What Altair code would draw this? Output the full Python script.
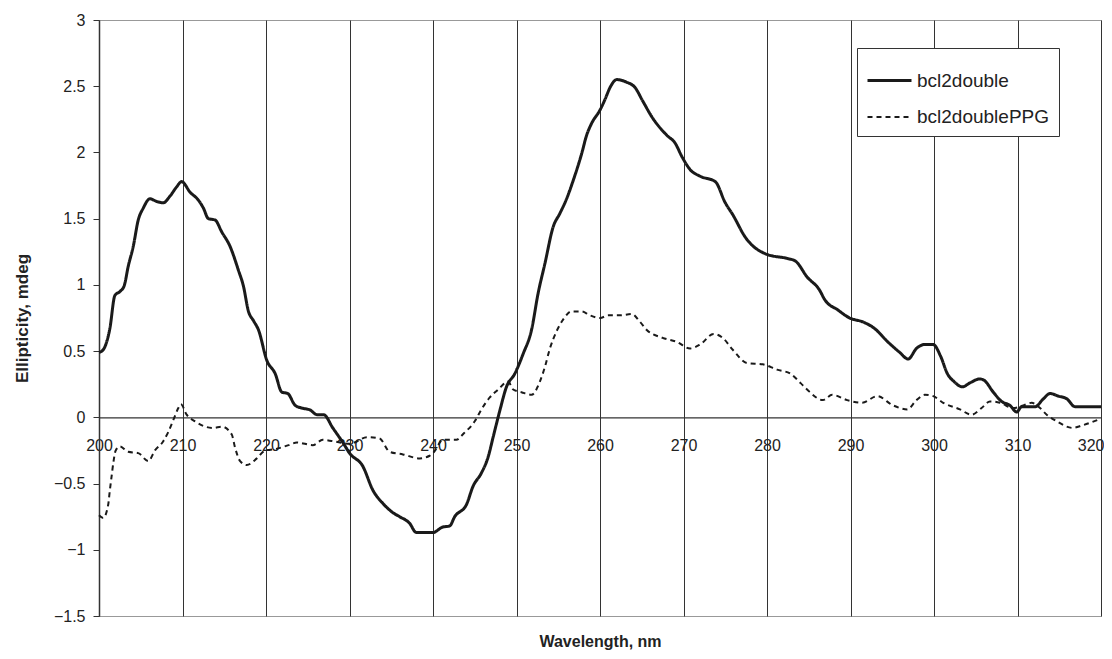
import altair as alt
import pandas as pd

series_names = ["bcl2double", "bcl2doublePPG"]

wl_solid = [200.0, 200.5, 201.3, 201.9, 202.5, 203.0, 203.5, 204.1, 204.7, 205.3, 206.1, 206.9, 207.7, 208.5,
            209.3, 209.9, 210.9, 211.9, 212.5, 213.1, 213.9, 214.7, 215.7, 216.7, 217.3, 217.9, 218.5, 219.1,
            220.1, 221.1, 221.9, 222.6, 223.5, 224.3, 225.3, 226.1, 226.9, 228.0, 229.2, 230.0, 231.6, 232.8,
            234.0, 235.2, 236.0, 237.2, 238.0, 239.0, 240.0, 241.1, 242.0, 242.6, 244.0, 244.8, 245.8, 246.6,
            247.2, 248.0, 248.8, 249.8, 250.8, 251.8, 252.6, 253.4, 254.4, 255.2, 256.0, 256.8, 257.8, 258.4,
            259.0, 260.0, 260.6, 261.2, 262.0, 263.2, 264.2, 265.1, 266.3, 268.0, 269.0, 269.8, 270.8, 272.0,
            273.8, 275.0, 275.9, 277.4, 280.0, 282.4, 283.4, 284.8, 286.3, 286.9, 288.5, 289.9, 291.5, 292.9,
            294.3, 295.9, 296.9, 297.9, 298.9, 299.9, 300.8, 301.6, 302.4, 303.4, 304.3, 305.5, 306.0, 307.1,
            308.1, 309.1, 309.9, 310.5, 312.1, 313.1, 313.9, 314.9, 315.9, 316.9, 318.3, 320.0]
val_solid = [0.49, 0.51, 0.67, 0.92, 0.95, 0.99, 1.14, 1.29, 1.49, 1.58, 1.65, 1.63, 1.62, 1.67,
             1.74, 1.78, 1.70, 1.64, 1.58, 1.50, 1.49, 1.40, 1.29, 1.11, 0.99, 0.80, 0.73, 0.66,
             0.43, 0.33, 0.19, 0.18, 0.09, 0.07, 0.055, 0.02, 0.02, -0.08, -0.19, -0.27, -0.37, -0.55,
             -0.65, -0.72, -0.75, -0.80, -0.87, -0.87, -0.87, -0.83, -0.82, -0.75, -0.66, -0.52, -0.42, -0.30,
             -0.15, 0.05, 0.23, 0.33, 0.48, 0.66, 0.94, 1.16, 1.44, 1.54, 1.65, 1.79, 1.99, 2.13,
             2.22, 2.32, 2.40, 2.49, 2.55, 2.53, 2.49, 2.39, 2.26, 2.13, 2.07, 1.97, 1.87, 1.82,
             1.78, 1.62, 1.53, 1.36, 1.23, 1.20, 1.18, 1.06, 0.96, 0.89, 0.81, 0.75, 0.72, 0.67,
             0.58, 0.49, 0.44, 0.52, 0.55, 0.55, 0.46, 0.33, 0.27, 0.23, 0.26, 0.29, 0.28, 0.19,
             0.12, 0.09, 0.04, 0.08, 0.08, 0.14, 0.18, 0.16, 0.14, 0.08, 0.08, 0.08]

wl_dashed = [200.0, 200.5, 201.1, 201.3, 201.5, 201.7, 202.0, 202.5, 203.5, 204.7, 205.9, 206.7, 207.7, 208.3,
             208.9, 209.5, 209.8, 210.5, 211.5, 212.7, 213.7, 214.7, 215.9, 216.3, 216.9, 217.7, 218.9, 219.9,
             221.1, 222.7, 223.7, 225.6, 226.8, 228.0, 230.0, 232.1, 233.6, 234.8, 236.4, 238.4, 239.6, 240.0,
             241.2, 242.8, 243.7, 245.0, 245.8, 246.8, 247.8, 249.0, 249.6, 250.6, 251.8, 252.8, 253.4, 254.0,
             254.8, 255.6, 256.6, 257.8, 258.8, 260.0, 261.0, 262.4, 263.8, 264.8, 265.6, 267.5, 269.2, 270.8,
             272.0, 273.6, 274.7, 275.9, 277.6, 279.5, 281.2, 282.8, 284.0, 284.8, 286.7, 287.8, 289.6, 291.4,
             293.2, 295.1, 296.8, 297.9, 298.9, 299.9, 301.1, 303.1, 304.5, 305.7, 306.7, 307.9, 309.5, 310.7,
             311.7, 312.7, 313.5, 314.7, 316.6, 317.8, 320.0]
val_dashed = [-0.74, -0.76, -0.66, -0.55, -0.45, -0.35, -0.25, -0.22, -0.26, -0.27, -0.33, -0.25, -0.18, -0.11,
              -0.02, 0.07, 0.10, 0.02, -0.03, -0.07, -0.08, -0.07, -0.13, -0.23, -0.33, -0.36, -0.31, -0.25,
              -0.24, -0.21, -0.19, -0.21, -0.17, -0.18, -0.20, -0.15, -0.16, -0.26, -0.28, -0.31, -0.29, -0.27,
              -0.17, -0.17, -0.12, -0.03, 0.06, 0.15, 0.21, 0.27, 0.21, 0.19, 0.17, 0.27, 0.38, 0.52,
              0.65, 0.74, 0.80, 0.80, 0.77, 0.75, 0.77, 0.77, 0.78, 0.72, 0.66, 0.60, 0.57, 0.52,
              0.55, 0.63, 0.60, 0.51, 0.41, 0.40, 0.36, 0.33, 0.26, 0.21, 0.13, 0.17, 0.13, 0.11,
              0.16, 0.09, 0.06, 0.13, 0.17, 0.16, 0.11, 0.06, 0.02, 0.07, 0.12, 0.11, 0.07, 0.09,
              0.11, 0.07, 0.02, -0.03, -0.08, -0.06, -0.01]

x_ticks = list(range(200, 321, 10))
y_ticks = [-1.5, -1.0, -0.5, 0.0, 0.5, 1.0, 1.5, 2.0, 2.5, 3.0]

df = pd.concat([
    pd.DataFrame({"wl": wl_solid, "v": val_solid, "series": series_names[0]}),
    pd.DataFrame({"wl": wl_dashed, "v": val_dashed, "series": series_names[1]}),
], ignore_index=True)

W, H = 1002, 596
y_lo, y_hi = -1.5, 3.0
zero_offset = -H * (0 - y_lo) / (y_hi - y_lo)

FONT = "Liberation Sans"
INK = "#1a1a1a"

legend = alt.Legend(
    title=None, orient="none", legendX=758, legendY=28,
    symbolType="stroke", symbolSize=1936, symbolStrokeColor=INK,
    labelFont=FONT, labelFontSize=19, labelColor="#222", labelOffset=4,
    padding=9, rowPadding=3, strokeColor="#333", fillColor="white",
)

last_tick = x_ticks[-1]

chart = alt.Chart(df).mark_line(interpolate="monotone", color=INK).encode(
    x=alt.X("wl:Q",
            scale=alt.Scale(domain=[200, 320], nice=False, zero=False),
            axis=alt.Axis(values=x_ticks, format="d", offset=zero_offset,
                          domainColor="#333", domainWidth=1.2, ticks=False,
                          labelPadding=20, labelFlush=False, labelOverlap=False,
                          labelAlign={"condition": {"test": f"datum.value === {last_tick}", "value": "right"},
                                      "value": "center"},
                          labelOffset={"condition": {"test": f"datum.value === {last_tick}", "value": 3},
                                       "value": 0},
                          labelFont=FONT, labelFontSize=16, labelColor="#222",
                          grid=True, gridColor="#333", gridWidth=1,
                          title="Wavelength, nm", titleFont=FONT, titleFontSize=16,
                          titleFontWeight="bold", titleColor="#222",
                          titleX=W / 2, titleY=-zero_offset + 30,
                          titleAlign="center", titleBaseline="alphabetic")),
    y=alt.Y("v:Q",
            scale=alt.Scale(domain=[y_lo, y_hi], nice=False),
            axis=alt.Axis(values=y_ticks, format=".1~f", grid=False,
                          domainColor="#333", domainWidth=1.5,
                          tickColor="#333", tickSize=6, tickWidth=1,
                          labelFont=FONT, labelFontSize=16, labelColor="#222", labelPadding=8,
                          title="Ellipticity, mdeg", titleFont=FONT, titleFontSize=17,
                          titleFontWeight="bold", titleColor="#222",
                          titleX=-77, titleY=H / 2, titleAngle=270,
                          titleAlign="center", titleBaseline="middle")),
    strokeDash=alt.StrokeDash("series:N",
                              scale=alt.Scale(domain=series_names, range=[[1, 0], [5, 4]]),
                              legend=legend),
    strokeWidth=alt.StrokeWidth("series:N",
                                scale=alt.Scale(domain=series_names, range=[3, 2]),
                                legend=legend),
).properties(
    width=W, height=H,
    autosize=alt.AutoSizeParams(type="none"),
    padding={"left": 91, "top": 12, "right": 3, "bottom": 35},
).configure_view(stroke="#999", strokeWidth=1)

chart.save("out.html", embed_options={"renderer": "svg", "actions": False})
